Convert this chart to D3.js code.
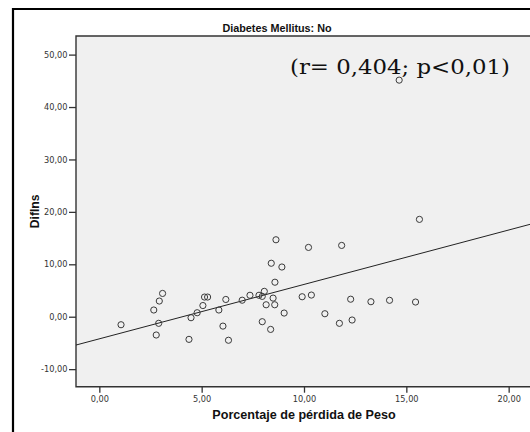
<!DOCTYPE html>
<html>
<head>
<meta charset="utf-8">
<script src="https://cdn.jsdelivr.net/npm/d3@7"></script>
<style>
  html, body { margin: 0; padding: 0; background: #fff; }
  svg { display: block; }
</style>
</head>
<body>
<script>
// Porcentaje de pérdida de peso (x) vs. Diflns (y), Diabetes Mellitus: No
const weightLossPct = [
  1.06, 2.66, 2.78, 2.90, 2.93, 3.09, 4.38, 4.48, 4.78, 5.06,
  5.14, 5.29, 5.84, 6.04, 6.18, 6.31, 6.98, 7.36, 7.80, 7.96,
  8.06, 7.96, 8.15, 8.37, 8.40, 8.49, 8.57, 8.58, 8.63, 8.92,
  9.03, 9.91, 10.36, 10.22, 11.02, 11.73, 11.84, 12.28, 12.35, 13.27,
  14.18, 15.45, 15.64, 14.65
];
const diflns = [
  -1.53, 1.28, -3.49, -1.26, 2.99, 4.44, -4.32, -0.19, 0.76, 2.13,
  3.75, 3.75, 1.28, -1.79, 3.29, -4.49, 3.15, 4.09, 4.09, 3.88,
  4.84, -0.95, 2.28, -2.42, 10.20, 3.55, 2.28, 6.58, 14.68, 9.48,
  0.70, 3.81, 4.13, 13.22, 0.57, -1.26, 13.60, 3.34, -0.63, 2.86,
  3.13, 2.80, 18.57, 45.13
];

// Linear fit: Diflns = intercept + slope * x
const fitIntercept = -4.22;
const fitSlope = 1.038;

const xTicks = [0, 5, 10, 15, 20];
const yTicks = [-10, 0, 10, 20, 30, 40, 50];

const chartTitle = "Diabetes Mellitus: No";
const xTitle = "Porcentaje de pérdida de Peso";
const yTitle = "Diflns";
const statLabel = "(r= 0,404; p<0,01)";

const W = 530, H = 432;
const plot = { left: 76, top: 36, right: 532, bottom: 386.7 };

const esLocale = d3.formatLocale({
  decimal: ",", thousands: ".", grouping: [3], currency: ["", ""], minus: "-"
});
const fmt = esLocale.format(".2f");

const x = d3.scaleLinear().domain([-1.14, 21.14]).range([plot.left, plot.right]);
const y = d3.scaleLinear().domain([-13.35, 53.55]).range([plot.bottom, plot.top]);

const svg = d3.select("body").append("svg")
  .attr("width", W).attr("height", H);

svg.append("rect").attr("width", W).attr("height", H).attr("fill", "#fff");

// outer frame
svg.append("path")
  .attr("d", `M13,${H + 5} L13,9 L${W + 5},9`)
  .attr("fill", "none").attr("stroke", "#000").attr("stroke-width", 2.2);

// plot background
svg.append("rect")
  .attr("x", plot.left).attr("y", plot.top)
  .attr("width", plot.right - plot.left).attr("height", plot.bottom - plot.top)
  .attr("fill", "#f0f0f0");

svg.append("defs").append("clipPath").attr("id", "plotClip")
  .append("rect")
  .attr("x", plot.left).attr("y", plot.top)
  .attr("width", plot.right - plot.left).attr("height", plot.bottom - plot.top);

// axes
const axisFont = "'DejaVu Sans', sans-serif";

const yAxis = d3.axisLeft(y).tickValues(yTicks).tickFormat(fmt)
  .tickSize(7).tickPadding(1.5).tickSizeOuter(0);
const gy = svg.append("g").attr("transform", `translate(${plot.left},0)`).call(yAxis);
gy.select(".domain").remove();
gy.selectAll(".tick line").attr("stroke", "#333").attr("stroke-width", 1.3);
gy.selectAll(".tick text").attr("font-family", axisFont).attr("font-size", 8.2)
  .attr("fill", "#333");

const xAxis = d3.axisBottom(x).tickValues(xTicks).tickFormat(fmt)
  .tickSize(6).tickPadding(3).tickSizeOuter(0);
const gx = svg.append("g").attr("transform", `translate(0,${plot.bottom})`).call(xAxis);
gx.select(".domain").remove();
gx.selectAll(".tick line").attr("stroke", "#333").attr("stroke-width", 1.3);
gx.selectAll(".tick text").attr("font-family", axisFont).attr("font-size", 8.2)
  .attr("fill", "#333");

// plot border lines (left, bottom, top)
svg.append("path")
  .attr("d", `M${plot.right},${plot.top} L${plot.left},${plot.top} L${plot.left},${plot.bottom} L${plot.right},${plot.bottom}`)
  .attr("fill", "none").attr("stroke", "#333").attr("stroke-width", 1.4);

const body = svg.append("g").attr("clip-path", "url(#plotClip)");

// fit line
const [x0, x1] = x.domain();
body.append("line")
  .attr("x1", x(x0)).attr("y1", y(fitIntercept + fitSlope * x0))
  .attr("x2", x(x1)).attr("y2", y(fitIntercept + fitSlope * x1))
  .attr("stroke", "#222").attr("stroke-width", 1);

// points
body.selectAll("circle.pt")
  .data(d3.range(weightLossPct.length))
  .join("circle")
  .attr("class", "pt")
  .attr("cx", i => x(weightLossPct[i]))
  .attr("cy", i => y(diflns[i]))
  .attr("r", 3.1)
  .attr("fill", "none")
  .attr("stroke", "#3a3a3a")
  .attr("stroke-width", 1);

// correlation annotation
svg.append("text")
  .attr("x", 290).attr("y", 74)
  .attr("font-family", "'DejaVu Serif', serif")
  .attr("font-size", 20)
  .attr("textLength", 220)
  .attr("lengthAdjust", "spacingAndGlyphs")
  .attr("fill", "#111")
  .text(statLabel);

// titles
svg.append("text")
  .attr("x", 277).attr("y", 32)
  .attr("text-anchor", "middle")
  .attr("font-family", "'Liberation Sans', Arial, sans-serif")
  .attr("font-weight", "bold").attr("font-size", 10.8)
  .attr("fill", "#111")
  .text(chartTitle);

svg.append("text")
  .attr("x", 304).attr("y", 418.5)
  .attr("text-anchor", "middle")
  .attr("font-family", "'Liberation Sans', Arial, sans-serif")
  .attr("font-weight", "bold").attr("font-size", 12.6)
  .attr("fill", "#111")
  .text(xTitle);

svg.append("text")
  .attr("transform", `translate(38.5,${(plot.top + plot.bottom) / 2}) rotate(-90)`)
  .attr("text-anchor", "middle")
  .attr("font-family", "'Liberation Sans', Arial, sans-serif")
  .attr("font-weight", "bold").attr("font-size", 12.2)
  .attr("fill", "#111")
  .text(yTitle);
</script>
</body>
</html>
